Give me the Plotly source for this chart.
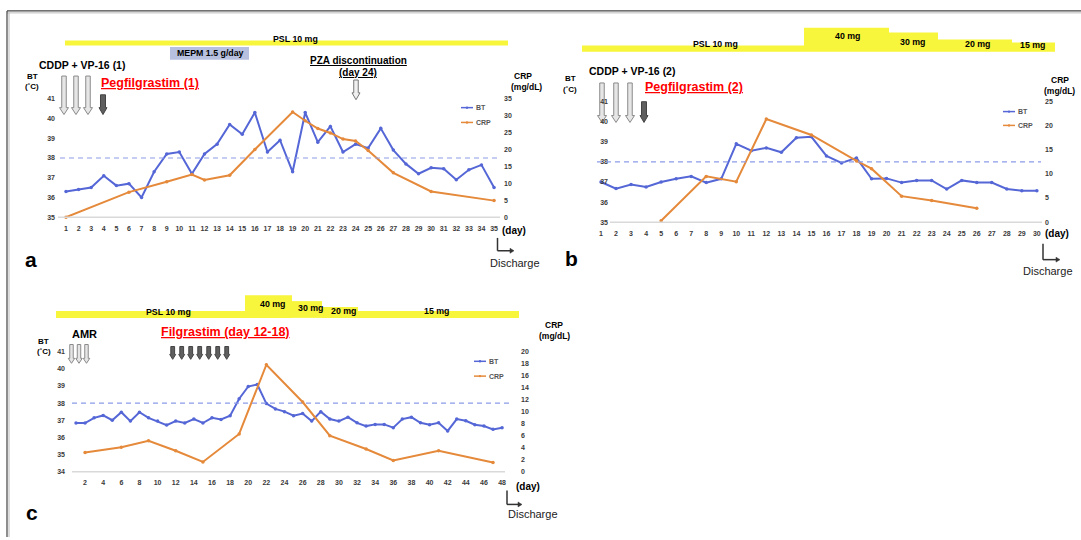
import plotly.graph_objects as go

W, H = 1081, 540
FONT = "Liberation Sans"
BLUE = "#5567d6"
ORANGE = "#e5893a"
YELLOW = "#f7f63c"
DASH_BLUE = "#8c9ce8"
BASE_GRAY = "#d9d9d9"

# ---------------- panel a ----------------
a_days = list(range(1, 36))
a_bt = [36.3, 36.4, 36.5, 37.1, 36.6, 36.7, 36.0, 37.3, 38.2, 38.3,
        37.2, 38.2, 38.7, 39.7, 39.2, 40.3, 38.3, 38.9, 37.3, 40.3,
        38.8, 39.6, 38.3, 38.7, 38.5, 39.5, 38.4, 37.7, 37.2, 37.5,
        37.45, 36.9, 37.4, 37.65, 36.5]
a_crp_days = [1, 6, 9, 11, 12, 14, 16, 19, 20, 21, 22, 23, 24, 25, 27, 30, 35]
a_crp = [0, 7.4, 10.5, 12.6, 11.0, 12.4, 20.0, 31.1, 28.5, 26.2, 24.9, 23.1,
         22.5, 19.7, 13.1, 7.6, 4.9]
a_bt_ticks = [35, 36, 37, 38, 39, 40, 41]
a_crp_ticks = [0, 5, 10, 15, 20, 25, 30, 35]

# ---------------- panel b ----------------
b_days = list(range(1, 31))
b_bt = [37.0, 36.67, 36.87, 36.75, 37.0, 37.16, 37.28, 36.97, 37.16, 38.9,
        38.56, 38.7, 38.48, 39.2, 39.25, 38.3, 37.95, 38.2, 37.16, 37.18,
        36.97, 37.08, 37.08, 36.65, 37.08, 36.97, 36.97, 36.65, 36.57, 36.57]
b_crp_days = [5, 8, 10, 12, 15, 18, 19, 21, 23, 26]
b_crp = [0.3, 9.5, 8.4, 21.4, 18.1, 12.7, 11.1, 5.4, 4.5, 2.9]
b_bt_ticks = [35, 36, 37, 38, 39, 40, 41]
b_crp_ticks = [0, 5, 10, 15, 20, 25]

# ---------------- panel c ----------------
c_days = list(range(1, 49))
c_bt = [36.84, 36.84, 37.14, 37.28, 37.0, 37.47, 36.95, 37.47, 37.14, 36.95,
        36.72, 36.95, 36.84, 37.07, 36.84, 37.14, 37.05, 37.26, 38.25, 38.96,
        39.08, 37.97, 37.66, 37.5, 37.26, 37.39, 36.95, 37.5, 37.07, 36.95,
        37.18, 36.85, 36.66, 36.76, 36.76, 36.57, 37.07, 37.18, 36.85, 36.74,
        36.85, 36.38, 37.07, 36.97, 36.74, 36.66, 36.47, 36.57]
c_crp_days = [2, 6, 9, 12, 15, 19, 22, 26, 29, 33, 36, 41, 47]
c_crp = [3.2, 4.1, 5.15, 3.5, 1.65, 6.3, 17.8, 11.6, 6.0, 3.8, 1.9, 3.5, 1.55]
c_xticks = list(range(2, 49, 2))
c_bt_ticks = [34, 35, 36, 37, 38, 39, 40, 41]
c_crp_ticks = list(range(0, 21, 2))

# steroid schedule labels
psl_a = ["PSL 10 mg"]
psl_b = ["PSL 10 mg", "40 mg", "30 mg", "20 mg", "15 mg"]
psl_c = ["PSL 10 mg", "40 mg", "30 mg", "20 mg", "15 mg"]

FEVER_LINE = 38


def X(px):
    return px / W


def Y(py):
    return 1 - py / H


fig = go.Figure()


def add_series(days, bt, crp_days, crp, xa, ya_bt, ya_crp):
    fig.add_trace(go.Scatter(
        x=days, y=bt, xaxis=xa, yaxis=ya_bt, mode="lines+markers",
        line=dict(color=BLUE, width=2), marker=dict(size=3.5, color=BLUE),
        showlegend=False, cliponaxis=False, name="BT"))
    fig.add_trace(go.Scatter(
        x=crp_days, y=crp, xaxis=xa, yaxis=ya_crp, mode="lines+markers",
        line=dict(color=ORANGE, width=2), marker=dict(size=3.5, color=ORANGE),
        showlegend=False, cliponaxis=False, name="CRP"))


add_series(a_days, a_bt, a_crp_days, a_crp, "x", "y", "y2")
add_series(b_days, b_bt, b_crp_days, b_crp, "x2", "y3", "y4")
add_series(c_days, c_bt, c_crp_days, c_crp, "x3", "y5", "y6")

TICKFONT = dict(family=FONT, size=7, color="#3a3a3a", weight="bold")


def xaxis(px0, px1, day1_px, step, tickvals, standoff):
    return dict(
        domain=[X(px0), X(px1)],
        range=[1 + (px0 - day1_px) / step, 1 + (px1 - day1_px) / step],
        showgrid=False, zeroline=False, showline=False, ticks="",
        tickmode="array", tickvals=tickvals, tickfont=TICKFONT,
        ticklabelstandoff=standoff, fixedrange=True)


def yaxis(top, bottom, rng, tickvals, pos_px, side, overlay=None):
    d = dict(
        range=rng, showgrid=False, zeroline=False, showline=False, ticks="",
        tickmode="array", tickvals=tickvals, tickfont=TICKFONT,
        anchor="free", position=X(pos_px), side=side, fixedrange=True,
        ticklabelstandoff=0)
    if overlay:
        d["overlaying"] = overlay
    else:
        d["domain"] = [Y(bottom), Y(top)]
    return d


layout = dict(
    width=W, height=H, autosize=False,
    margin=dict(l=0, r=0, t=0, b=0),
    paper_bgcolor="white", plot_bgcolor="rgba(0,0,0,0)",
    showlegend=False,
    font=dict(family=FONT),
    xaxis=xaxis(58, 500, 66, 12.59, a_days, 6),
    yaxis=yaxis(96, 216, [35, 41], a_bt_ticks, 55, "left"),
    yaxis2=yaxis(96, 216, [0, 35], a_crp_ticks, 503, "right", "y"),
    xaxis2=xaxis(590, 1045, 601, 15.03, b_days, 6),
    yaxis3=yaxis(99, 221, [35, 41], b_bt_ticks, 608, "left"),
    yaxis4=yaxis(99, 221, [0, 25], b_crp_ticks, 1044, "right", "y3"),
    xaxis3=xaxis(66, 510, 76, 9.065, c_xticks, 5),
    yaxis5=yaxis(352, 474, [34, 41], c_bt_ticks, 65, "left"),
    yaxis6=yaxis(352, 474, [0, 20], c_crp_ticks, 520, "right", "y5"),
)
layout["xaxis"]["anchor"] = "y"
layout["xaxis2"]["anchor"] = "y3"
layout["xaxis3"]["anchor"] = "y5"

shapes = []
annotations = []


def rect(x0, y0, x1, y1, fill, line=None):
    shapes.append(dict(type="rect", xref="paper", yref="paper",
                       x0=X(x0), x1=X(x1), y0=Y(y1), y1=Y(y0),
                       fillcolor=fill, line=dict(width=0) if line is None else line,
                       layer="below"))


def seg(x0, y0, x1, y1, color, width=1, dash="solid"):
    shapes.append(dict(type="line", xref="paper", yref="paper",
                       x0=X(x0), x1=X(x1), y0=Y(y0), y1=Y(y1),
                       line=dict(color=color, width=width, dash=dash)))


def poly(pts, fill, color, width=1, layer="above"):
    path = "M " + " L ".join(f"{X(x):.6f},{Y(y):.6f}" for x, y in pts) + " Z"
    shapes.append(dict(type="path", xref="paper", yref="paper", path=path,
                       fillcolor=fill, line=dict(color=color, width=width),
                       layer=layer))


def down_arrow(cx, y0, y1, shaft, head, head_h, fill, color, layer="above"):
    poly([(cx - shaft / 2, y0), (cx + shaft / 2, y0), (cx + shaft / 2, y1 - head_h),
          (cx + head / 2, y1 - head_h), (cx, y1), (cx - head / 2, y1 - head_h),
          (cx - shaft / 2, y1 - head_h)], fill, color, 1, layer)


def txt(x, y, s, size, color="black", bold=True, xanchor="center"):
    annotations.append(dict(
        x=X(x), y=Y(y), xref="paper", yref="paper", showarrow=False,
        text=f"<b>{s}</b>" if bold else s, xanchor=xanchor, yanchor="middle",
        font=dict(family=FONT, size=size, color=color)))


def fever_line(x0, x1, yref):
    shapes.append(dict(type="line", xref="paper", yref=yref,
                       x0=X(x0), x1=X(x1), y0=FEVER_LINE, y1=FEVER_LINE,
                       line=dict(color=DASH_BLUE, width=1.2, dash="5px,4px")))


def legend(x, y_bt, y_crp):
    for yy, col, lab in [(y_bt, BLUE, "BT"), (y_crp, ORANGE, "CRP")]:
        seg(x, yy, x + 12, yy, col, 1.5)
        shapes.append(dict(type="circle", xref="paper", yref="paper",
                           x0=X(x + 4.8), x1=X(x + 7.2), y0=Y(yy + 1.2), y1=Y(yy - 1.2),
                           fillcolor=col, line=dict(width=0)))
        txt(x + 13, yy, lab, 7, "#555555", True, "left")


def discharge(x, y0, y1, x1, tx, ty):
    seg(x, y0, x, y1, "#333333", 1.5)
    seg(x, y1, x1 - 3, y1, "#333333", 1.5)
    poly([(x1 - 4, y1 - 2.5), (x1, y1), (x1 - 4, y1 + 2.5)], "#333333", "#333333", 0.5)
    txt(tx, ty, "Discharge", 11, "#222222", False)


# outer frame
seg(7, 7, 1081, 7, "#444444", 1.2)
seg(7, 9, 1081, 9, "#aaaaaa", 0.8)
seg(7, 7, 7, 540, "#444444", 1.2)
seg(9, 9, 9, 540, "#aaaaaa", 0.8)

# ================= panel a =================
rect(65, 37, 508, 42, YELLOW)
txt(295, 35, psl_a[0], 8.8)
rect(170, 43.5, 249, 56.5, "#b7c1df")
txt(210, 50, "MEPM 1.5 g/day", 8.8)
txt(82, 62, "CDDP + VP-16 (1)", 10.5)
txt(150, 80, "<u>Pegfilgrastim (1)</u>", 12.5, "#ff0000")
txt(358, 57, "<u>PZA discontinuation</u>", 10)
txt(358, 69.5, "<u>(day 24)</u>", 10)
txt(32, 73, "BT", 8)
txt(32, 84, "(˚C)", 8)
txt(523, 73, "CRP", 8.5)
txt(526, 84.5, "(mg/dL)", 8.5)
for cx in (64, 76, 88):
    down_arrow(cx, 73, 112, 4.5, 9, 7, "#e6e6e6", "#8a8a8a")
down_arrow(103, 92, 112, 5, 8, 7, "#5f5f5f", "#444444")
down_arrow(356, 77, 97, 4.5, 8, 7, "#f0f0f0", "#777777")
seg(58, 216, 500, 216, BASE_GRAY, 1.5)
fever_line(60, 500, "y")
legend(461, 105, 120)
txt(514, 229, "(day)", 10)
discharge(497.5, 237, 250, 514, 515, 262)
txt(31, 259, "a", 21)

# ================= panel b =================
rect(582, 42, 804, 48.5, YELLOW)
rect(804, 24, 889, 48.5, YELLOW)
rect(889, 29, 938, 48.5, YELLOW)
rect(938, 36, 1012, 48.5, YELLOW)
rect(1012, 39, 1055, 48.5, YELLOW)
for (xx, yy), lab in zip([(715, 40.5), (847, 32), (912, 38), (977, 41), (1032, 41.5)], psl_b):
    txt(xx, yy, lab, 8.8)
txt(632, 68, "CDDP + VP-16 (2)", 10.5)
txt(694, 84, "<u>Pegfilgrastim (2)</u>", 12.5, "#ff0000")
txt(570, 75, "BT", 8)
txt(570, 86.5, "(˚C)", 8)
txt(1060, 77, "CRP", 8.5)
txt(1059, 88, "(mg/dL)", 8.5)
for cx in (602, 616, 630):
    down_arrow(cx, 80, 120, 4.5, 9, 7, "#e6e6e6", "#8a8a8a", "below")
down_arrow(644, 99, 120, 5, 8, 7, "#5f5f5f", "#444444")
seg(610, 221, 1042, 221, BASE_GRAY, 1.5)
fever_line(597, 1041, "y3")
legend(1003, 109, 123)
txt(1057, 233, "(day)", 10)
discharge(1043, 243, 259, 1060, 1048, 270)
txt(571, 258, "b", 21)

# ================= panel c =================
rect(56, 311, 245, 318, YELLOW)
rect(245, 295, 292, 318, YELLOW)
rect(292, 301, 322, 318, YELLOW)
rect(322, 307, 358, 318, YELLOW)
rect(358, 311, 519, 318, YELLOW)
for (xx, yy), lab in zip([(168, 312), (272, 304), (310, 308), (343, 311), (436, 311)], psl_c):
    txt(xx, yy, lab, 8.8)
txt(84, 334, "AMR", 11)
txt(225, 332, "<u>Filgrastim (day 12-18)</u>", 12.5, "#ff0000")
txt(43.5, 341.5, "BT", 8)
txt(43.5, 352, "(˚C)", 8)
txt(554, 325, "CRP", 8.5)
txt(554, 336.5, "(mg/dL)", 8.5)
for cx in (71.5, 79, 86.5):
    down_arrow(cx, 345, 364, 3.5, 6.5, 5, "#e6e6e6", "#8a8a8a")
for i in range(7):
    down_arrow(172.7 + i * 9.0, 347, 360, 3.8, 6, 5, "#5f5f5f", "#444444")
seg(72, 474, 505, 474, BASE_GRAY, 1.5)
fever_line(72, 512, "y5")
legend(474, 362, 377)
txt(528, 489, "(day)", 10)
discharge(507, 493, 507, 522, 533, 517)
txt(32, 515, "c", 21)

layout["shapes"] = shapes
layout["annotations"] = annotations
fig.update_layout(**layout)

fig.write_html("out.html")
